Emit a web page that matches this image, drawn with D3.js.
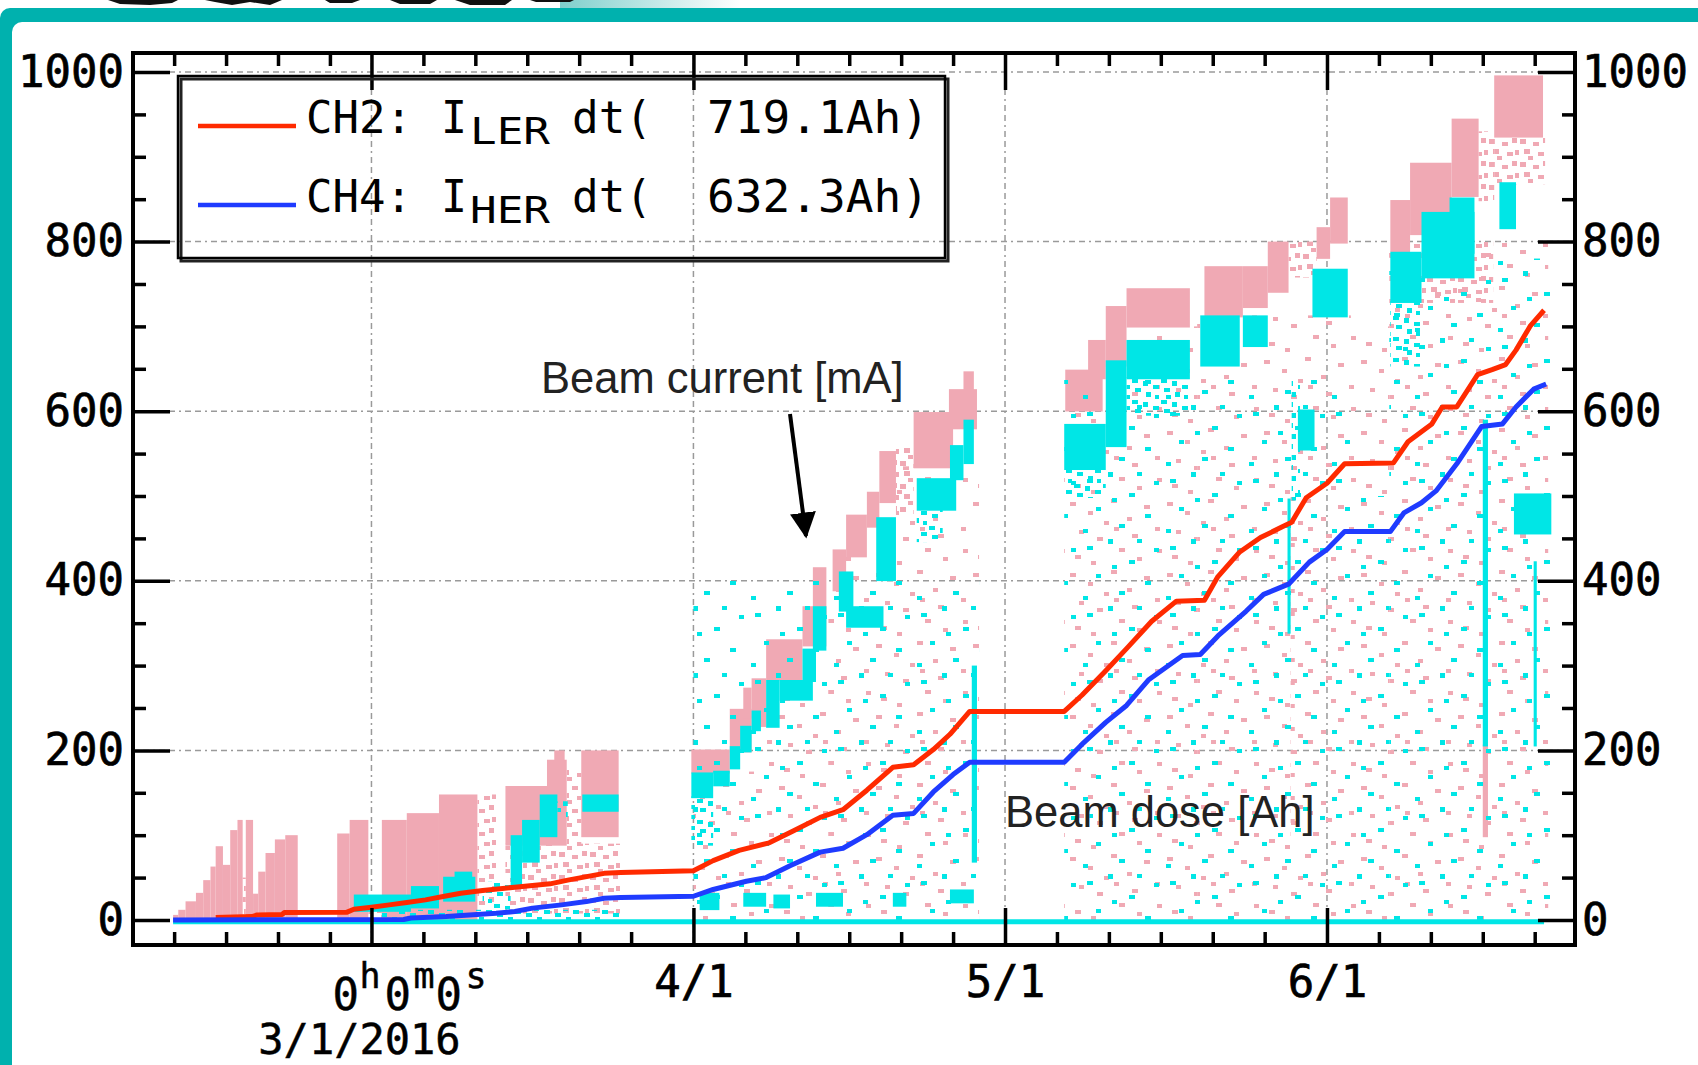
<!DOCTYPE html>
<html><head><meta charset="utf-8">
<script src="https://cdn.jsdelivr.net/npm/d3@7"></script>
<style>
html,body{margin:0;padding:0;background:#fff;overflow:hidden;}
svg{display:block;}
</style></head><body>
<svg id="c" width="1698" height="1065"></svg>
<script>
// ---------------- DATA (days counted from 3/1/2016) ----------------
const yMajorTicks = [0, 200, 400, 600, 800, 1000];
const yMinorTicks = [50,100,150,250,300,350,450,500,550,650,700,750,850,900,950];
const tickDaysOfMonth = [1, 6, 11, 16, 21, 26];
const xLabels = ["4/1", "5/1", "6/1"];
const firstLabelMain = ["0","h","0","m","0","s"];
const firstLabelDate = "3/1/2016";

// integrated beam dose [Ah]
const lerDose = [[-15,3],[-11.5,4],[-11,6],[-8.6,6.5],[-8.4,8.7],[-2.4,9],[-1.7,12.6],[0,15],[1.7,17.8],[3.4,20.5],[5.2,23.7],[6.9,27.6],[8.6,31.6],[10.7,34.7],[13.8,38.7],[17.2,42.6],[18.9,47],[22.4,55],[24,56],[31,58],[32.9,70],[35.4,82],[38.3,91],[40.6,105],[43.2,121],[45.4,130],[47.7,153],[50.2,180],[52.2,183],[54.1,201],[55.7,219],[57.6,246],[66.7,246],[68.4,265],[70.7,294],[72.7,320],[75.1,352],[77.5,376],[80.2,377],[81.5,405],[83.6,434],[85.6,451],[87.6,463],[88.6,469],[90,498],[92,515],[93.7,538],[98.4,539],[99.8,564],[102.1,585],[103.1,605],[104.5,605],[106.5,643],[107.9,649],[109.2,655],[110.2,672],[111.6,701],[112.9,719]];
const herDose = [[-19.1,0],[3.1,0.5],[3.8,2.4],[7.2,4],[12,8],[13.8,10],[15.5,14],[18.3,17.8],[20.7,21.7],[22.4,25.6],[24,26.5],[31,28],[32.9,36],[36.1,45.7],[38,50],[40.3,64],[43.2,80],[45.4,84.6],[47.7,100.6],[50.2,123.5],[52.2,125.7],[54.1,151],[56,171.5],[57.6,186],[66.7,186],[68.4,207],[70.7,233],[72.7,253],[74.8,283],[78.1,312],[79.8,313],[81.5,335],[84.2,364],[85.9,384],[88.3,396],[90.3,422],[92,437],[93.7,458],[98.1,458],[99.4,480],[101.1,492],[102.5,506],[104.5,538],[106.9,582],[108.9,585],[110.2,605],[111.9,626],[113.1,632]];

// beam current [mA] occupancy: [dayStart, dayEnd, low, high]
const lerDense = [[-19.1,-18.6,0,6],[-18.6,-17.9,0,12],[-17.9,-16.9,0,22],[-16.9,-16.2,0,32],[-16.2,-15.5,0,47],[-15.5,-15.0,0,63],[-15.0,-14.3,0,87],[-14.3,-13.6,0,65],[-13.6,-12.9,0,106],[-12.9,-12.4,0,118],[-12.1,-11.4,0,118],[-11.4,-10.9,0,31],[-10.9,-10.2,0,57],[-10.2,-9.3,0,79],[-9.3,-8.3,0,95],[-8.3,-7.1,0,100],
  [-3.3,-2.1,0,102],[-2.1,-0.3,0,118],[1.0,3.4,0,118],[3.4,6.5,0,126],[6.5,10.2,0,148],[12.9,16.9,90,158],[16.9,18.8,90,189],[17.6,18.6,150,200],[20.2,23.8,100,200],
  [30.8,34.5,175,201],[34.5,36.6,200,249],[35.8,36.6,240,274],[36.6,38,230,285],[38,41.5,285,331],[41.5,43.8,325,370],[42.5,43.8,360,416],[44.4,45.7,390,437],[45.7,47.7,430,478],[47.7,48.9,465,505],[48.9,50.5,494,553],[52.2,56,535,599],[55.6,58.3,581,626],[57,58,620,647],
  [66.8,70.4,602,649],[69,70.7,640,684],[70.7,72.7,655,724],[72.7,78.8,701,745],[80.2,83.9,713,771],[83.9,86.3,724,771],[86.3,88.3,742,800],[91,92.3,782,817],[92.3,94,800,852],
  [98.1,100,790,849],[100,104,810,893],[104,106.6,855,945],[108.1,112.8,925,996],[107,107.5,100,207]];
const lerMedium = [[-0.3,1.0,0,27],[10.2,12,20,148],[12.9,24,10,90],[18.8,20.2,40,180],[-12.4,-12.1,0,50],[50.5,52.2,480,560],[88.3,91,760,800],[106.6,108.1,850,930],[108.1,113,870,925],[98,108,730,800],[88.5,88.9,100,500]];
const lerSparse = [[31,38,0,175],[38,44,0,285],[44,50.5,0,430],[50.5,58.5,0,535],[66.7,72.7,0,600],[72.7,79.5,0,700],[79.5,94.3,0,713],[94.3,98,0,700],[98,113.3,0,800]];

const herDense = [[-1.7,3.8,12,30],[3.8,6.5,16,40],[6.9,10,24,51],[8,9.7,47,57],[13.4,14.5,40,100],[14.5,16.2,70,118],[16.2,17.9,100,148],[20.3,23.8,130,148],
  [30.8,32.9,146,174],[32.9,34.5,160,176],[34.5,35.5,180,205],[35.5,36.6,200,229],[36.6,37.5,225,247],[38,39.3,229,283],[39.3,42.5,261,283],[41.5,42.8,283,320],[42.5,43.8,320,370],[45,46.4,366,411],[45.7,49.3,347,370],[48.6,50.5,402,475],[52.5,56.3,485,521],[55.7,57,521,560],[57,58,540,590],[57.8,58.3,70,300],
  [31.6,33.5,14,32],[35.8,38,18,32],[38.7,40.3,16,30],[42.8,45.4,18,32],[50.2,51.5,18,32],[55.7,58,22,36],
  [66.7,70.7,533,585],[70.7,72.7,560,660],[72.7,78.8,640,684],[79.8,83.6,655,713],[83.9,86.3,678,713],[89.2,90.8,556,602],[90.6,94,713,768],[88.2,88.5,340,497],
  [98.1,101.1,730,788],[101.1,106.2,759,835],[103.8,106.2,788,852],[108.6,110.2,817,870],[110,113.6,457,503],[107,107.5,207,590],[111.9,112.2,207,423]];
const herMedium = [[10.7,13.4,15,45],[17.9,18.9,120,140],[30.8,32.9,90,146],[52.5,55,448,485],[66.7,70.7,500,533],[72.7,78.8,597,640],[88.6,89.4,497,640],[98.1,101.1,655,730],[1,24,0,12]];
const herSparse = [[31,58.5,0,400],[66.7,94.3,0,640],[94.3,98,0,500],[98,113.5,0,780]];
const herZero = [[-19.1,-2],[112.9,-2]];

// legend
const legendNames = ["CH2:", "CH4:"];
const legendSubs = ["LER", "HER"];
const legendTotals = ["719.1Ah)", "632.3Ah)"];
const annotations = ["Beam current [mA]", "Beam dose [Ah]"];

// ---------------- DRAWING ----------------
const BASE = Date.UTC(2016, 2, 1);
const day = d => new Date(BASE + d * 864e5);
const W = 1698, H = 1065;
const L = 133, R = 1575, T = 53, B = 945;
const x = d3.scaleUtc().domain([day(-22.96), day(115.88)]).range([L, R]);
const y = d3.scaleLinear().domain([-29.5, 1022.4]).range([B, T]);

const PINK = "#F0A9B4", CYAN = "#00E6E6", RED = "#FF2A00", BLUE = "#1F3BFF", TEAL = "#00B1AE";
const MONO = "'DejaVu Sans Mono', monospace";
const SANS = "'Liberation Sans', Arial, sans-serif";

const svg = d3.select("#c");
const defs = svg.append("defs");
defs.append("clipPath").attr("id", "clip").append("rect").attr("x", L).attr("y", T).attr("width", R - L).attr("height", B - T);
function pattern(id, w, h, color, dots) {
  const p = defs.append("pattern").attr("id", id).attr("patternUnits", "userSpaceOnUse").attr("width", w).attr("height", h);
  dots.forEach(([a, b, dw, dh]) => p.append("rect").attr("x", a).attr("y", b).attr("width", dw).attr("height", dh).attr("fill", color));
}
pattern("pSparse", 97, 71, PINK, [[3,5,6,4],[21,14,5,4],[44,2,6,4],[12,33,5,4],[30,40,6,4],[60,20,5,4],[77,8,6,4],[88,30,5,4],[52,51,6,4],[70,60,5,4],[8,58,6,4],[37,24,5,4],[90,52,5,4],[65,37,6,4],[24,64,5,4],[47,30,5,4]]);
pattern("cSparse", 83, 67, CYAN, [[8,10,6,4],[29,3,5,5],[50,24,6,4],[17,38,5,4],[66,45,6,4],[75,12,5,4],[40,55,6,4],[4,60,5,4],[58,3,5,4],[33,29,5,4]]);
pattern("pMed", 31, 23, PINK, [[1,1,6,5],[14,4,6,4],[24,0,5,5],[5,11,6,5],[19,14,6,4],[9,18,5,4],[27,12,4,5]]);
pattern("cMed", 29, 21, CYAN, [[1,1,6,4],[12,3,5,5],[22,7,6,4],[4,10,6,4],[15,14,5,5],[24,17,4,4]]);
const grad = defs.append("linearGradient").attr("id", "tg").attr("x1", 0).attr("x2", 1);
grad.append("stop").attr("offset", 0).attr("stop-color", "#7fcfcc");
grad.append("stop").attr("offset", 1).attr("stop-color", "#ffffff");

// slide frame
svg.append("rect").attr("width", W).attr("height", H).attr("fill", "#fff");
svg.append("rect").attr("x", 0).attr("y", 8).attr("width", W + 20).attr("height", H + 20).attr("rx", 10).attr("fill", TEAL);
svg.append("rect").attr("x", 12).attr("y", 22).attr("width", W + 20).attr("height", H + 20).attr("rx", 10).attr("fill", "#fff");
svg.append("rect").attr("x", 560).attr("y", 0).attr("width", 180).attr("height", 8).attr("fill", "url(#tg)");
svg.append("path").attr("fill", "#111")
  .attr("d", "M108,0 L178,0 L172,3 L150,5 L120,4 Z M205,0 L282,0 L270,5 L250,2 L232,5 L215,2 Z M325,0 L360,0 L352,3 L330,3 Z M390,0 L437,0 L430,4 L400,4 Z M455,0 L512,0 L505,5 L470,5 Z M530,0 L574,0 L570,2 L536,2 Z");

// grid
const gridG = svg.append("g").attr("stroke", "#9a9a9a").attr("stroke-width", 1.5).attr("stroke-dasharray", "6,4,6,4,2,4");
gridG.selectAll("line.h").data(yMajorTicks.filter(v => v > 0)).join("line")
  .attr("x1", L).attr("x2", R).attr("y1", d => y(d)).attr("y2", d => y(d));
const allTickDates = d3.utcDay.range(day(-22.96), day(115.88)).filter(dt => tickDaysOfMonth.includes(dt.getUTCDate()));
const majorDates = allTickDates.filter(dt => dt.getUTCDate() === 1);
const minorDates = allTickDates.filter(dt => dt.getUTCDate() !== 1);
gridG.selectAll("line.v").data(majorDates).join("line")
  .attr("x1", d => x(d)).attr("x2", d => x(d)).attr("y1", T).attr("y2", B);

// data
const plot = svg.append("g").attr("clip-path", "url(#clip)");
function bands(arr, fill) {
  plot.append("g").selectAll("rect").data(arr).join("rect")
    .attr("x", d => x(day(d[0]))).attr("width", d => x(day(d[1])) - x(day(d[0])))
    .attr("y", d => y(d[3])).attr("height", d => y(d[2]) - y(d[3]) + 2).attr("fill", fill);
}
bands(lerSparse, "url(#pSparse)");
bands(lerMedium, "url(#pMed)");
bands(lerDense, PINK);
bands(herSparse, "url(#cSparse)");
bands(herMedium, "url(#cMed)");
bands(herDense, CYAN);
const line = d3.line().x(d => x(day(d[0]))).y(d => y(d[1]));
plot.append("path").datum(herZero).attr("d", line).attr("stroke", CYAN).attr("stroke-width", 5).attr("fill", "none");
plot.append("path").datum(lerDose).attr("d", line).attr("stroke", RED).attr("stroke-width", 5).attr("fill", "none").attr("stroke-linejoin", "round");
plot.append("path").datum(herDose).attr("d", line).attr("stroke", BLUE).attr("stroke-width", 5).attr("fill", "none").attr("stroke-linejoin", "round");

// axes
function styleAxis(g) {
  g.select(".domain").remove();
  g.selectAll(".tick line").attr("stroke", "#000").attr("stroke-width", 3.5);
  g.selectAll("text").attr("font-family", MONO).attr("font-size", 44).attr("fill", "#000")
    .attr("stroke", "#000").attr("stroke-width", 0.7);
  g.attr("font-family", null).attr("font-size", null);
}
const intFmt = d3.format("d");
svg.append("g").attr("transform", `translate(${L},0)`).call(d3.axisLeft(y).tickValues(yMajorTicks).tickFormat(intFmt).tickSize(-37).tickPadding(9)).call(styleAxis);
svg.append("g").attr("transform", `translate(${L},0)`).call(d3.axisLeft(y).tickValues(yMinorTicks).tickSize(-13).tickFormat("")).call(styleAxis);
svg.append("g").attr("transform", `translate(${R},0)`).call(d3.axisRight(y).tickValues(yMajorTicks).tickFormat(intFmt).tickSize(-37).tickPadding(7)).call(styleAxis);
svg.append("g").attr("transform", `translate(${R},0)`).call(d3.axisRight(y).tickValues(yMinorTicks).tickSize(-13).tickFormat("")).call(styleAxis);
const fmt = d => { const i = majorDates.indexOf(d); return i > 0 ? xLabels[i - 1] : ""; };
svg.append("g").attr("transform", `translate(0,${B})`).call(d3.axisBottom(x).tickValues(majorDates).tickSize(-37).tickPadding(21).tickFormat(fmt)).call(styleAxis);
svg.append("g").attr("transform", `translate(0,${B})`).call(d3.axisBottom(x).tickValues(minorDates).tickSize(-13).tickFormat("")).call(styleAxis);
svg.append("g").attr("transform", `translate(0,${T})`).call(d3.axisTop(x).tickValues(majorDates).tickSize(-37).tickFormat("")).call(styleAxis);
svg.append("g").attr("transform", `translate(0,${T})`).call(d3.axisTop(x).tickValues(minorDates).tickSize(-13).tickFormat("")).call(styleAxis);
// frame
svg.append("rect").attr("x", L).attr("y", T).attr("width", R - L).attr("height", B - T).attr("fill", "none").attr("stroke", "#000").attr("stroke-width", 4);

// first date label "0h0m0s" + "3/1/2016"
const x0 = x(majorDates[0]);
const lab = svg.append("text").attr("font-family", MONO).attr("fill", "#000").attr("stroke", "#000").attr("stroke-width", 0.5);
const offs = [-39, -12, 13, 42, 64, 94];
firstLabelMain.forEach((s, i) => {
  const sup = i % 2 === 1;
  lab.append("tspan").attr("x", x0 + offs[i]).attr("y", sup ? 988 : 1010).attr("font-size", sup ? 35 : 44).text(s);
});
svg.append("text").attr("x", x0 - 12).attr("y", 1054).attr("text-anchor", "middle").attr("font-family", MONO).attr("font-size", 42).attr("fill", "#000")
  .attr("stroke", "#000").attr("stroke-width", 0.5).text(firstLabelDate);

// legend
svg.append("rect").attr("x", 181).attr("y", 79).attr("width", 767).attr("height", 182).attr("fill", "none").attr("stroke", "#222").attr("stroke-width", 3);
svg.append("rect").attr("x", 178).attr("y", 76).attr("width", 767).attr("height", 182).attr("fill", "none").attr("stroke", "#000").attr("stroke-width", 2.5);
const legColors = [RED, BLUE];
const legY = [133, 212];
legendNames.forEach((n, i) => {
  svg.append("line").attr("x1", 198).attr("x2", 296).attr("y1", legY[i] - 7).attr("y2", legY[i] - 7).attr("stroke", legColors[i]).attr("stroke-width", 4.5);
  const t = (xx, s, fs, dy, tl) => svg.append("text").attr("x", xx).attr("y", legY[i] + dy).attr("font-family", MONO).attr("font-size", fs).attr("fill", "#000")
      .attr("textLength", tl).attr("lengthAdjust", "spacingAndGlyphs").text(s);
  t(306, n, 44, 0, 106);
  t(441, "I", 44, 0, 26);
  t(470, legendSubs[i], 37, 11, 80);
  t(572, "dt(", 44, 0, 80);
  t(707, legendTotals[i], 44, 0, 222);
});

// annotations
svg.append("text").attr("x", 541).attr("y", 393).attr("font-family", SANS).attr("font-size", 43.5).attr("fill", "#222").text(annotations[0]);
svg.append("text").attr("x", 1005).attr("y", 827).attr("font-family", SANS).attr("font-size", 43.5).attr("fill", "#222").text(annotations[1]);
defs.append("marker").attr("id", "ah").attr("viewBox", "0 0 10 10").attr("refX", 9).attr("refY", 5)
  .attr("markerWidth", 6.5).attr("markerHeight", 6.5).attr("markerUnits", "strokeWidth").attr("orient", "auto")
  .append("path").attr("d", "M0,0 L10,5 L0,10 Z").attr("fill", "#000");
svg.append("line").attr("x1", 790).attr("y1", 414).attr("x2", 806).attr("y2", 536).attr("stroke", "#000").attr("stroke-width", 4).attr("marker-end", "url(#ah)");
</script></body></html>
